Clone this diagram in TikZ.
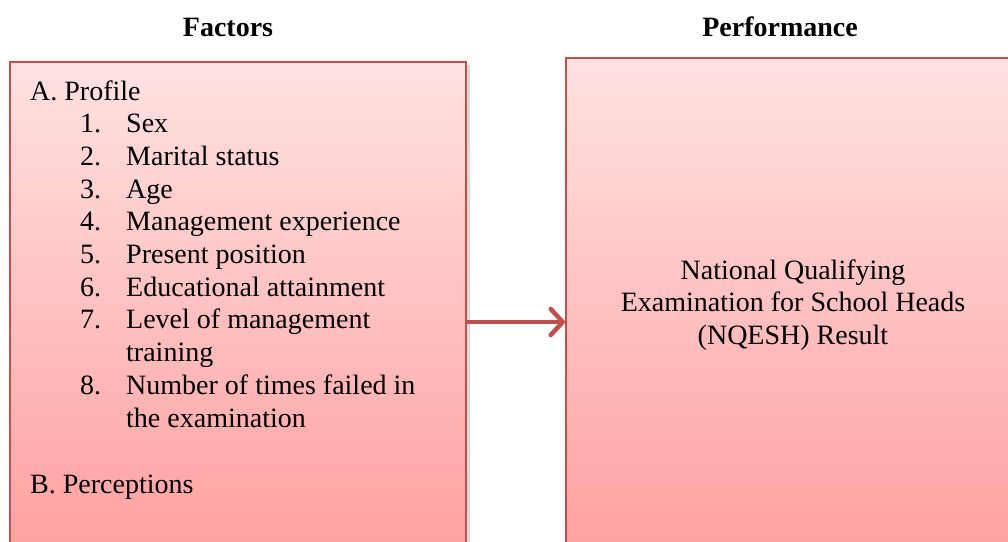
\documentclass[tikz,border=0pt]{standalone}
\usepackage{fontspec}
\setmainfont{Liberation Serif}
\usetikzlibrary{arrows.meta,shadows}

\definecolor{boxred}{HTML}{C0504D}
\definecolor{boxtop}{HTML}{FFE2E2}
\definecolor{boxbot}{HTML}{FF9C9C}

\tikzset{
  panel/.style={draw=boxred, line width=2pt, top color=boxtop, bottom color=boxbot,
    inner sep=0pt, drop shadow={opacity=0.3, shadow xshift=4pt, shadow yshift=-3pt}},
  head/.style={font=\fontsize{28}{32}\selectfont\bfseries},
  item/.style={anchor=base west, inner sep=0pt, font=\fontsize{28}{32.7}\selectfont},
  flow/.style={draw=boxred, line width=4.5pt, -{Straight Barb[length=12pt,width=26pt,round]}},
}

\begin{document}
\begin{tikzpicture}[x=1pt,y=-1pt]
\useasboundingbox (0,0) rectangle (1008,541);
\clip (0,0) rectangle (1008,541);

%% headings
\node[head] (facthead) at (228,27) {Factors};
\node[head] (perfhead) at (780,27) {Performance};

%% boxes
\node[panel, minimum width=456pt, minimum height=520pt] (factors) at (238,322) {};
\node[panel, minimum width=454pt, minimum height=528pt] (perf) at (793,322) {};

%% arrow between the boxes
\draw[flow] (factors.east) -- (perf.west);

%% factors list
\node[item] (profile) at (30,100) {A. Profile};
\node[item] (n1) at (80,132.7) {1.};
\node[item] (i1) at (126,132.7) {Sex};
\node[item] (n2) at (80,165.4) {2.};
\node[item] (i2) at (126,165.4) {Marital status};
\node[item] (n3) at (80,198.1) {3.};
\node[item] (i3) at (126,198.1) {Age};
\node[item] (n4) at (80,230.8) {4.};
\node[item] (i4) at (126,230.8) {Management experience};
\node[item] (n5) at (80,263.5) {5.};
\node[item] (i5) at (126,263.5) {Present position};
\node[item] (n6) at (80,296.2) {6.};
\node[item] (i6) at (126,296.2) {Educational attainment};
\node[item] (n7) at (80,328.9) {7.};
\node[item] (i7) at (126,328.9) {Level of management};
\node[item] (i7b) at (126,361.6) {training};
\node[item] (n8) at (80,394.3) {8.};
\node[item] (i8) at (126,394.3) {Number of times failed in};
\node[item] (i8b) at (126,427) {the examination};
\node[item] (percep) at (30,493) {B. Perceptions};

%% performance text
\node[align=center, inner sep=0pt, font=\fontsize{28}{32.7}\selectfont] (result) at (793,305)
  {National Qualifying\\Examination for School Heads\\(NQESH) Result};
\end{tikzpicture}
\end{document}
